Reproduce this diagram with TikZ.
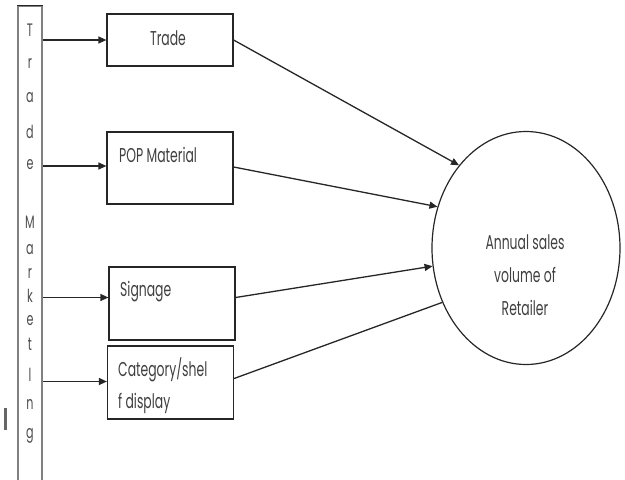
\documentclass[tikz,border=0pt]{standalone}
\usepackage{fontspec}
\setmainfont{Poppins}
\newfontfamily\gfont[FakeStretch=0.62]{Poppins}
\usetikzlibrary{arrows.meta,shapes.geometric}
\tikzset{
  box/.style={draw=black!85, line width=1.2pt, rectangle, minimum width=126pt, minimum height=73pt, inner sep=0pt},
  lbl/.style={font=\gfont\fontsize{20}{33}\selectfont, text=black!75, inner sep=0pt, align=left},
  letter/.style={font=\gfont\fontsize{18}{18}\selectfont, text=black!70, inner sep=0pt},
  feed/.style={line width=1.3pt, draw=black!85, -{Triangle[length=8pt,width=7pt]}},
  conn/.style={line width=1.3pt, draw=black!85}
}
\begin{document}
\begin{tikzpicture}[x=1pt,y=-1pt]
\useasboundingbox (0,0) rectangle (625,480);
\clip (0,0) rectangle (625,480);
% left bar
\node[draw=black!50, line width=1.6pt, minimum width=24pt, minimum height=490pt, inner sep=0pt] (bar) at (30,251) {};
\draw[black!85, line width=1.2pt] (bar.north west) -- (bar.north east);
\foreach \ch/\yy [count=\i] in {T/30,r/63,a/98,d/132,e/165,M/222,a/250,r/273,k/296,e/321,t/344,l/375,n/404,g/436}
  \node[letter] (let\i) at (30,\yy) {\ch};
\draw[black!60, line width=3pt] (5,408) -- (5,430);
% boxes
\node[box, minimum height=52pt] (trade) at (170,40) {};
\node[box, minimum height=72pt] (pop) at (170,168) {};
\node[box] (sign) at (172,303.5) {};
\node[box] (cat) at (170.5,382.5) {};
\node[lbl] (tradet) at (168,38) {Trade};
\node[lbl, anchor=west] (popt) at (119,155) {POP Material};
\node[lbl, anchor=west] (signt) at (120,292) {Signage};
\node[lbl, anchor=west] (catt1) at (118,370) {Category/shel};
\node[lbl, anchor=west] (catt2) at (118,403) {f display};
% ellipse
\node[draw=black!85, line width=1.2pt, ellipse, minimum width=188pt, minimum height=233pt, inner sep=0pt] (ell) at (526,248) {};
\node[lbl, align=center] (ellt) at (525,275) {Annual sales\\volume of\\Retailer};
% entry / exit points
\coordinate (popin) at ([yshift=2pt]pop.west);
\coordinate (signin) at ([yshift=6pt]sign.west);
\coordinate (catin) at ([yshift=1pt]cat.west);
\coordinate (popout) at ([yshift=1pt]pop.east);
\coordinate (signout) at ([yshift=6pt]sign.east);
\coordinate (catout) at ([yshift=4pt]cat.east);
% arrows from bar
\draw[feed] (bar.east |- trade.west) -- (trade.west);
\draw[feed] (bar.east |- popin) -- (popin);
\draw[feed] (bar.east |- signin) -- (signin);
\draw[feed] (bar.east |- catin) -- (catin);
% lines to ellipse
\draw[feed] (trade.east) -- (ell.129);
\draw[feed] (popout) -- (ell.155);
\draw[feed] (signout) -- (ell.191);
\draw[conn] (catout) -- (ell.213);
\end{tikzpicture}
\end{document}
